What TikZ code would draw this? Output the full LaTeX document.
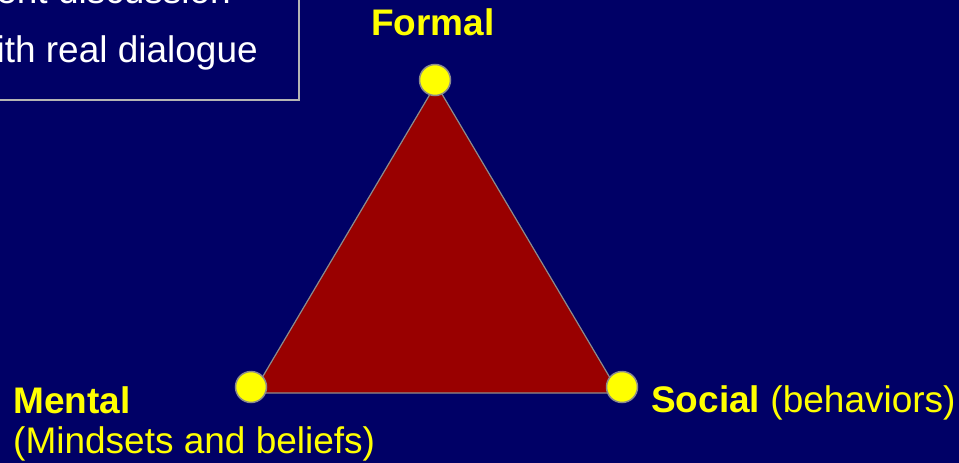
\documentclass[tikz,border=0pt]{standalone}
\usepackage{fontspec}
\setmainfont{Liberation Sans}
\definecolor{bgnavy}{HTML}{000066}
\definecolor{trired}{HTML}{990000}
\definecolor{dotyellow}{HTML}{FFFF00}
\definecolor{edgegrey}{HTML}{8C8C8C}
\definecolor{boxgrey}{HTML}{B4B4B4}
\tikzset{
  lbl/.style={inner sep=0pt, text=dotyellow, font=\fontsize{37}{41}\selectfont},
  boxtxt/.style={inner sep=0pt, text=white, font=\fontsize{37}{40}\selectfont},
  dot/.style={circle, fill=dotyellow, draw=edgegrey, line width=1.5pt, minimum size=31pt, inner sep=0pt},
}
\begin{document}
\begin{tikzpicture}[x=1pt,y=-1pt]
\useasboundingbox (0,0) rectangle (959,463);
\clip (0,0) rectangle (959,463);
\fill[bgnavy] (0,0) rectangle (959,463);
% text box (partially visible)
\draw[boxgrey, line width=1.5pt] (-20,-20) rectangle (299,100);
\node[boxtxt, anchor=base east] (line1) at (231,3) {ent discussion};
\node[boxtxt, anchor=base east] (line2) at (258,62) {ith real dialogue};
% triangle
\coordinate (ta) at (436,84);
\coordinate (tb) at (253,393);
\coordinate (tc) at (619,393);
\draw[fill=trired, draw=edgegrey, line width=1.2pt] (ta) -- (tb) -- (tc) -- cycle;
\node[dot] (formaldot) at (435,80) {};
\node[dot] (mentaldot) at (251,387) {};
\node[dot] (socialdot) at (622,387) {};
% labels
\node[lbl, anchor=base] (formal) at (433,35) {\textbf{Formal}};
\node[lbl, anchor=base west] (mental) at (13,413) {\textbf{Mental}};
\node[lbl, anchor=base west] (mentalsub) at ([yshift=-40pt]mental.base west) {(Mindsets and beliefs)};
\node[lbl, anchor=base west] (social) at (651,412) {\textbf{Social} (behaviors)};
\end{tikzpicture}
\end{document}
